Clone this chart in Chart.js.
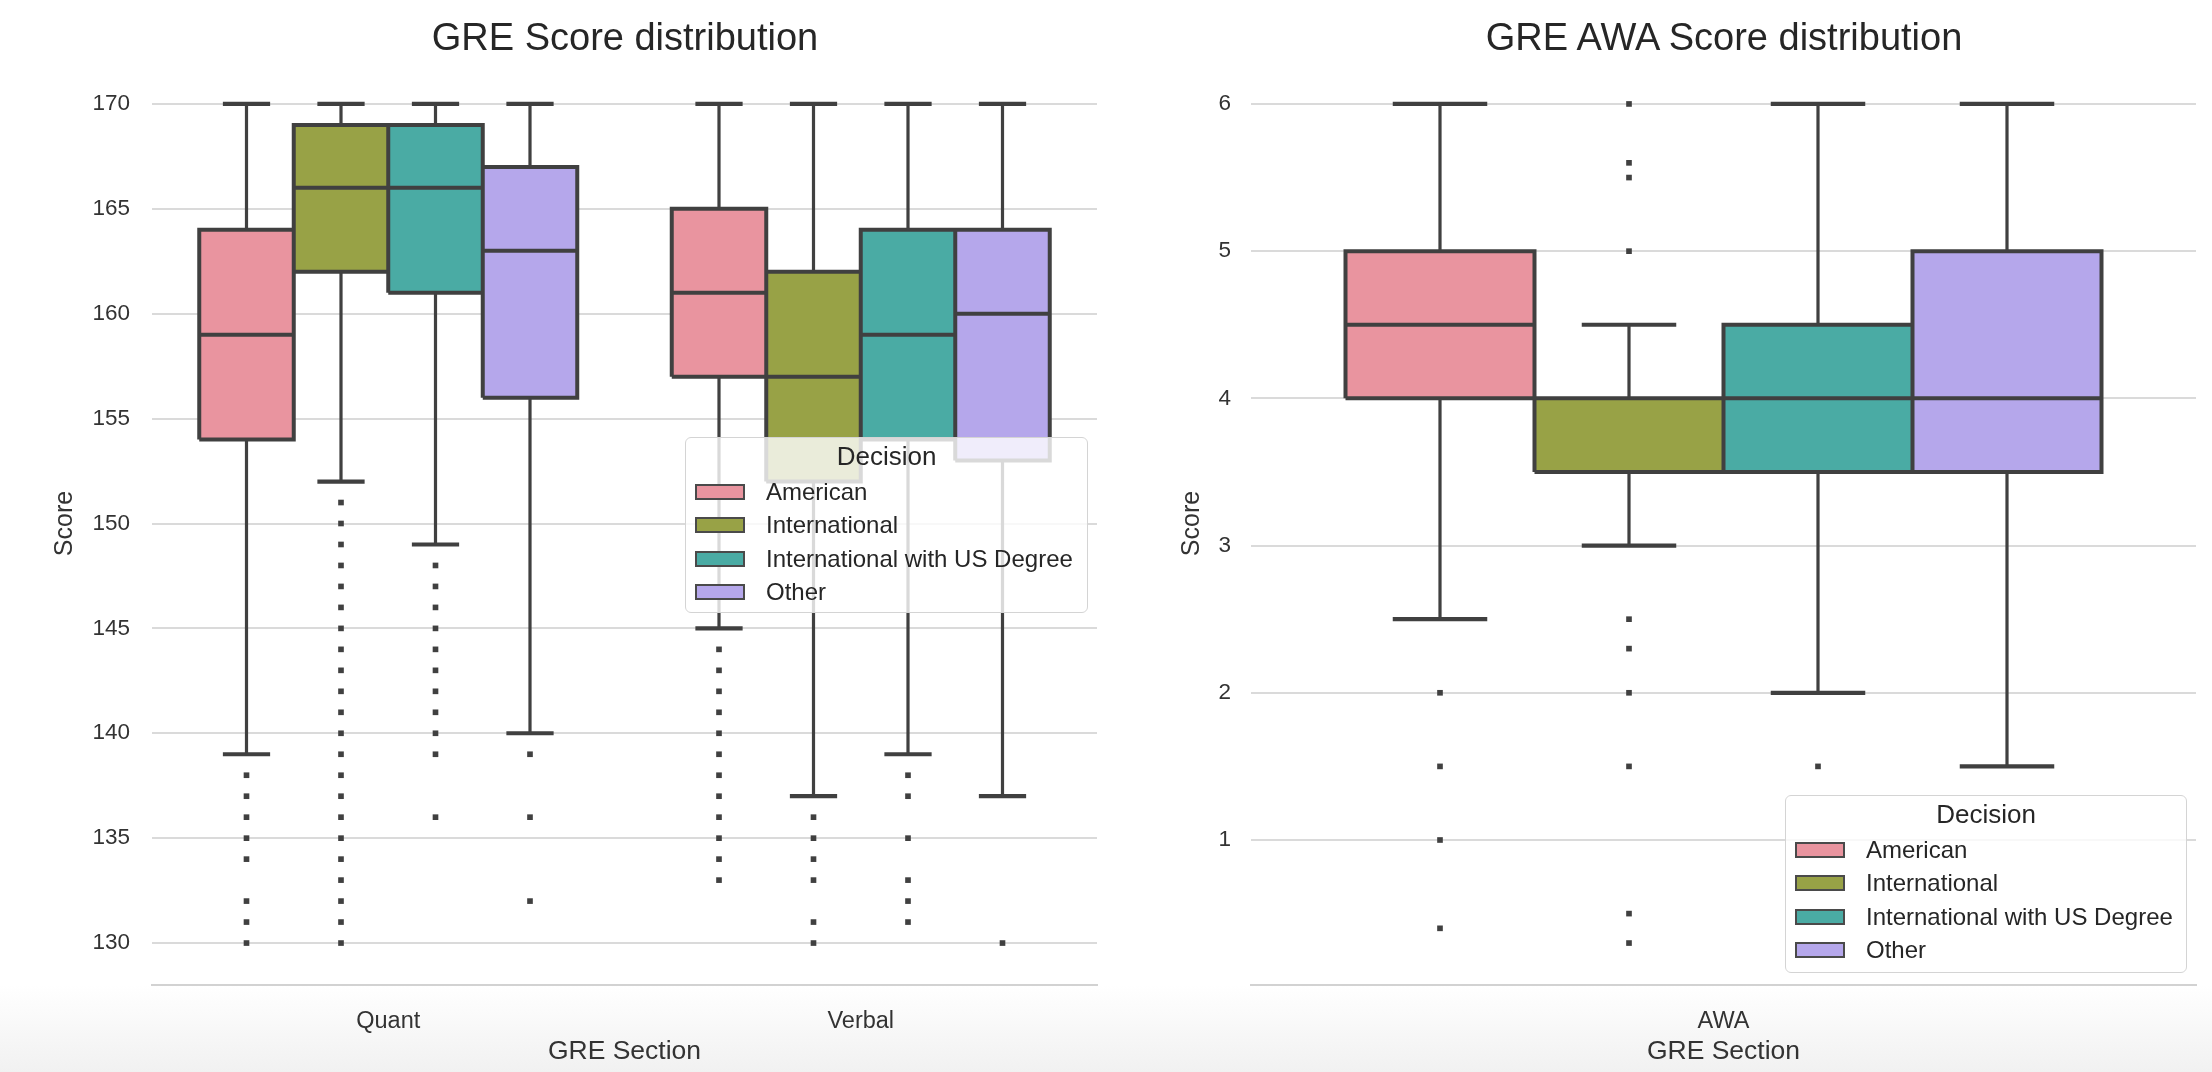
<!DOCTYPE html>
<html>
<head>
<meta charset="utf-8">
<script src="https://cdn.jsdelivr.net/npm/chart.js@4.4.1/dist/chart.umd.min.js"></script>
<style>
html, body { margin: 0; padding: 0; }
body {
    width: 2212px; height: 1072px; position: relative; overflow: hidden;
    font-family: "Liberation Sans", Arial, sans-serif; color: #262626;
    background: linear-gradient(to bottom, #ffffff 0px, #ffffff 985px, #f1f1f1 1072px);
}
canvas { position: absolute; top: 0; }
#chart1 { left: 0; }
#chart2 { left: 1106px; }
.title { position: absolute; top: 37px; font-size: 38px; transform: translate(-50%, -50%); white-space: nowrap; }
.legend {
    position: absolute; box-sizing: border-box;
    background: rgba(255, 255, 255, 0.8);
    border: 1.5px solid #d4d4d4; border-radius: 6px;
}
.legend .lt { position: absolute; left: 0; right: 0; text-align: center; font-size: 26px; transform: translateY(-50%); }
.legend .patch { position: absolute; left: 9px; width: 50px; height: 16px; box-sizing: border-box; border: 2px solid #4a4a4a; transform: translateY(-50%); }
.legend .lab { position: absolute; left: 80px; font-size: 24px; white-space: nowrap; transform: translateY(-50%); }
</style>
</head>
<body>
<canvas id="chart1" width="1106" height="1072"></canvas>
<canvas id="chart2" width="1106" height="1072"></canvas>
<div class="title" style="left:625px">GRE Score distribution</div>
<div class="title" style="left:1724px">GRE AWA Score distribution</div>
<div class="legend" id="legend1" style="left:685px; top:437px; width:403px; height:176px"></div>
<div class="legend" id="legend2" style="left:1785px; top:795px; width:402px; height:178px"></div>

<script>
// Decision groups (hue) and their box colours
const hues = ['American', 'International', 'International with US Degree', 'Other'];
const hueColors = ['#e9949f', '#98a246', '#4aaba4', '#b5a7eb'];
const edgeColor = '#404040';

// GRE Quant / Verbal, one row per decision group: [Quant, Verbal]
const greSections = ['Quant', 'Verbal'];
const greLow = [[139, 145], [152, 137], [149, 139], [140, 137]];
const greQ1 = [[154, 157], [162, 152], [161, 154], [156, 153]];
const greMedian = [[159, 161], [166, 157], [166, 159], [163, 160]];
const greQ3 = [[164, 165], [169, 162], [169, 164], [167, 164]];
const greHigh = [[170, 170], [170, 170], [170, 170], [170, 170]];
const greOutliers = [
    [[138, 137, 136, 135, 134, 132, 131, 130], [144, 143, 142, 141, 140, 139, 138, 137, 136, 135, 134, 133]],
    [[151, 150, 149, 148, 147, 146, 145, 144, 143, 142, 141, 140, 139, 138, 137, 136, 135, 134, 133, 132, 131, 130], [136, 135, 134, 133, 131, 130]],
    [[148, 147, 146, 145, 144, 143, 142, 141, 140, 139, 136], [138, 137, 135, 133, 132, 131]],
    [[139, 136, 132], [130]]
];
const greTicks = [130, 135, 140, 145, 150, 155, 160, 165, 170];

// GRE AWA
const awaSections = ['AWA'];
const awaLow = [[2.5], [3], [2], [1.5]];
const awaQ1 = [[4], [3.5], [3.5], [3.5]];
const awaMedian = [[4.5], [4], [4], [4]];
const awaQ3 = [[5], [4], [4.5], [5]];
const awaHigh = [[6], [4.5], [6], [6]];
const awaOutliers = [
    [[2, 1.5, 1, 0.4]],
    [[6, 5.6, 5.5, 5, 2.5, 2.3, 2, 1.5, 0.5, 0.3]],
    [[1.5]],
    [[]]
];
const awaTicks = [1, 2, 3, 4, 5, 6];

const font = size => ({ family: 'Liberation Sans', size: size });

function boxChart(id, sections, low, q1, med, q3, high, outliers, ticks, yMin, yMax, geo) {
    const n = sections.length;
    const gap = { x: NaN, y: null };
    let datasets = [];
    let outlines = [];
    let caps = [];
    let whiskers = [];
    let fliers = [];

    hues.forEach((h, k) => {
        const off = -0.3 + 0.2 * k;
        sections.forEach((s, i) => {
            const c = i + off;
            // box body: top edge filled down to Q1
            datasets.push({
                type: 'line', label: h,
                data: [{ x: c - 0.1, y: q3[k][i] }, { x: c + 0.1, y: q3[k][i] }],
                fill: { value: q1[k][i] }, backgroundColor: hueColors[k],
                borderWidth: 0, pointRadius: 0, order: 4
            });
            // box outline + median
            outlines.push({ x: c - 0.1, y: q1[k][i] }, { x: c + 0.1, y: q1[k][i] }, { x: c + 0.1, y: q3[k][i] },
                { x: c - 0.1, y: q3[k][i] }, { x: c - 0.1, y: q1[k][i] }, gap);
            outlines.push({ x: c - 0.1, y: med[k][i] }, { x: c + 0.1, y: med[k][i] }, gap);
            // caps
            caps.push({ x: c - 0.05, y: high[k][i] }, { x: c + 0.05, y: high[k][i] }, gap);
            caps.push({ x: c - 0.05, y: low[k][i] }, { x: c + 0.05, y: low[k][i] }, gap);
            // whiskers
            whiskers.push({ x: c, y: q3[k][i] }, { x: c, y: high[k][i] }, gap);
            whiskers.push({ x: c, y: q1[k][i] }, { x: c, y: low[k][i] }, gap);
            outliers[k][i].forEach(v => fliers.push({ x: c, y: v }));
        });
    });

    datasets.push({
        type: 'line', data: whiskers, borderColor: edgeColor, borderWidth: 3.2,
        pointRadius: 0, spanGaps: false, tension: 0, fill: false, order: 3
    });
    datasets.push({
        type: 'line', data: caps, borderColor: edgeColor, borderWidth: 4.2,
        pointRadius: 0, spanGaps: false, tension: 0, fill: false, order: 2
    });
    datasets.push({
        type: 'line', data: outlines, borderColor: edgeColor, borderWidth: 4,
        borderJoinStyle: 'miter', pointRadius: 0, spanGaps: false, tension: 0, fill: false, order: 1
    });
    datasets.push({
        type: 'scatter', data: fliers, pointStyle: 'rect', pointRadius: 4,
        backgroundColor: edgeColor, borderWidth: 0, order: 0
    });

    return new Chart(document.getElementById(id), {
        type: 'scatter',
        data: { datasets: datasets },
        options: {
            responsive: false,
            animation: false,
            devicePixelRatio: 1,
            layout: { padding: { top: 62, right: geo.right, bottom: 0, left: 0 } },
            plugins: { legend: { display: false }, tooltip: { enabled: false }, title: { display: false } },
            scales: {
                x: {
                    type: 'linear',
                    min: -0.5,
                    max: n - 0.5,
                    grid: { display: false },
                    border: { display: true, color: '#d2d2d2', width: 2 },
                    afterBuildTicks: s => { s.ticks = sections.map((t, i) => ({ value: i })); },
                    ticks: { color: '#333', font: font(23.5), padding: 14, callback: v => sections[v] },
                    title: { display: true, text: 'GRE Section', color: '#333', font: font(26.5), padding: { bottom: 4 } },
                    afterFit: s => { s.height = 87; }
                },
                y: {
                    min: yMin,
                    max: yMax,
                    border: { display: false },
                    grid: { color: '#dadada', lineWidth: 2, drawTicks: false },
                    ticks: { color: '#333', font: font(22.5), padding: geo.tickPad },
                    afterBuildTicks: s => { s.ticks = ticks.map(v => ({ value: v })); },
                    title: { display: true, text: 'Score', color: '#333', font: font(25), padding: { top: geo.titlePad } },
                    afterFit: s => { s.width = geo.yWidth; }
                }
            }
        }
    });
}

function buildLegend(id) {
    const el = document.getElementById(id);
    let html = '<div class="lt" style="top:18px">Decision</div>';
    hues.forEach((h, k) => {
        const top = 54 + k * 33.4;
        html += '<div class="patch" style="top:' + top + 'px;background:' + hueColors[k] + '"></div>';
        html += '<div class="lab" style="top:' + top + 'px">' + h + '</div>';
    });
    el.innerHTML = html;
}

boxChart('chart1', greSections, greLow, greQ1, greMedian, greQ3, greHigh, greOutliers, greTicks, 128, 172,
    { right: 9, yWidth: 152, tickPad: 22, titlePad: 50 });
boxChart('chart2', awaSections, awaLow, awaQ1, awaMedian, awaQ3, awaHigh, awaOutliers, awaTicks, 0.015, 6.285,
    { right: 16, yWidth: 145, tickPad: 20, titlePad: 71 });

buildLegend('legend1');
buildLegend('legend2');
</script>
</body>
</html>
